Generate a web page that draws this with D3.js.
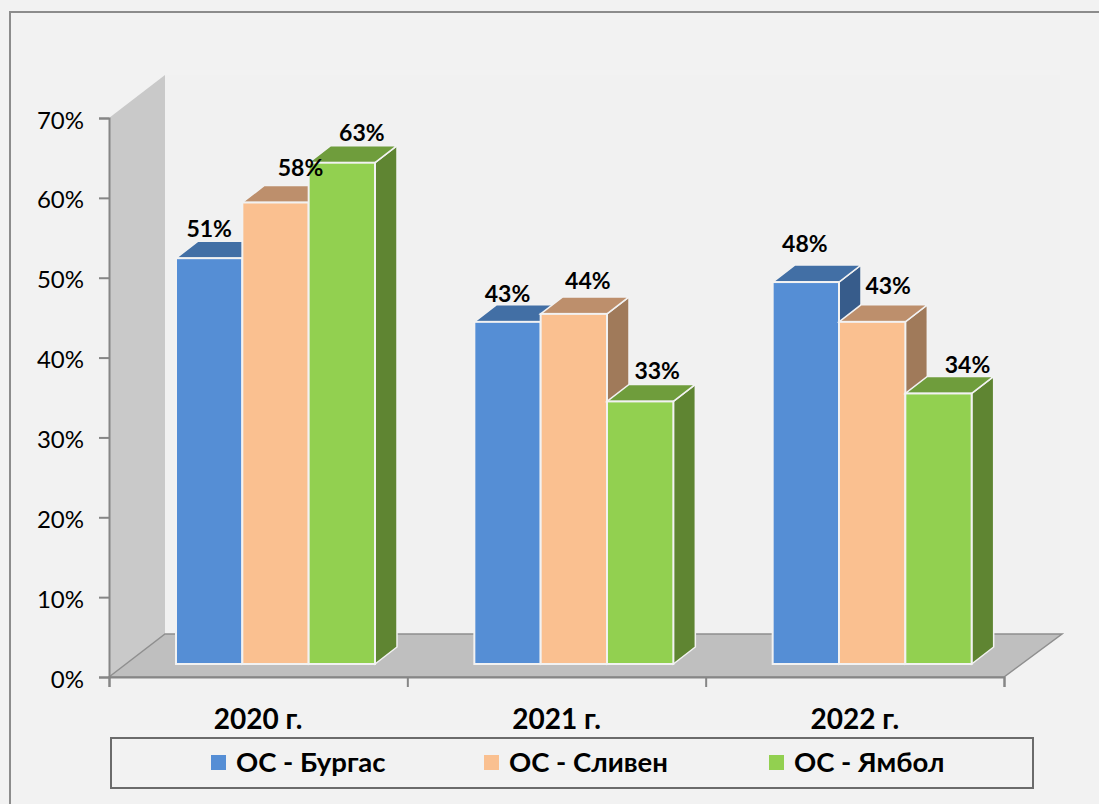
<!DOCTYPE html>
<html>
<head>
<meta charset="utf-8">
<script src="https://cdn.jsdelivr.net/npm/d3@7"></script>
<style>
html, body { margin: 0; padding: 0; background: #f2f2f2; }
svg { display: block; }
text { font-family: Lato, "Open Sans", sans-serif; fill: #000; }
</style>
</head>
<body>
<svg width="1099" height="804"></svg>
<script>
var years = ["2020 г.", "2021 г.", "2022 г."];
var seriesNames = ["ОС - Бургас", "ОС - Сливен", "ОС - Ямбол"];
var burgas = [51, 43, 48];
var sliven = [58, 44, 43];
var yambol = [63, 33, 34];
var yTicks = [0, 10, 20, 30, 40, 50, 60, 70];

var frontColors = ["#558ed5", "#fac090", "#92d050"];
var topColors = ["#426fa5", "#bd8f6c", "#6f9d3c"];
var sideColors = ["#375c8b", "#a07a5a", "#5f8532"];

var seriesValues = [burgas, sliven, yambol];

var svg = d3.select("svg");

// axis box
var left = 109, right = 1004, bottom = 677, top_ = 118;
// wall and floor depth
var wallDx = 56, wallDy = -43;
// bars stand a bit into the floor
var barBase = 664, barDx = 22, barDy = -17;

var y = d3.scaleLinear().domain([0, 70]).range([bottom, top_]);
var yBar = d3.scaleLinear().domain([0, 70]).range([barBase, barBase - 557]);
var x0 = d3.scaleBand().domain(years).range([left, right]);
var x1 = d3.scaleBand().domain(seriesNames).range([67, 266]);
var xTickScale = d3.scaleLinear().domain([0, 3]).range([left, right]);

// labels were hand placed in the original: shift from top-center of the bar front
var labelShift = [
    [[0, -21], [25, -26], [20, -22]],
    [[0, -20], [14, -25], [17, -22]],
    [[-1, -30], [16, -28], [29, -20]]
];

function pts(list) {
    return list.map(function(p) { return p.join(","); }).join(" ");
}

// chart frame, runs off the page right and bottom
svg.append("rect")
    .attr("x", 10).attr("y", 12)
    .attr("width", 1200).attr("height", 900)
    .attr("fill", "#f2f2f2")
    .attr("stroke", "#8c8c8c")
    .attr("stroke-width", 2);

// back wall
svg.append("rect")
    .attr("x", left + wallDx).attr("y", top_ + wallDy)
    .attr("width", right - left)
    .attr("height", bottom - top_)
    .attr("fill", "#f1f1f1");

// side wall
svg.append("polygon")
    .attr("points", pts([[left, top_], [left + wallDx, top_ + wallDy], [left + wallDx, bottom + wallDy], [left, bottom]]))
    .attr("fill", "#c9c9c9");

// floor
svg.append("polygon")
    .attr("points", pts([[left, bottom], [left + wallDx, bottom + wallDy], [right + wallDx + 2, bottom + wallDy], [right, bottom]]))
    .attr("fill", "#bfbfbf")
    .attr("stroke", "#8f8f8f")
    .attr("stroke-width", 1.5);

// axes
var yAxis = d3.axisLeft(y).tickValues(yTicks).tickFormat(function(d) { return d + "%"; }).tickSizeOuter(0).tickSize(10);
var yG = svg.append("g").attr("transform", "translate(" + left + ",0)").call(yAxis);
yG.selectAll("text").attr("x", -25).attr("dy", "0.42em").attr("font-size", 24).style("font-family", "Lato, 'Open Sans', sans-serif");

var xAxis = d3.axisBottom(xTickScale).tickValues([0, 1, 2, 3]).tickFormat("").tickSizeOuter(0).tickSize(10);
var xG = svg.append("g").attr("transform", "translate(0," + bottom + ")").call(xAxis);

svg.selectAll(".domain, .tick line")
    .attr("stroke", "#868686")
    .attr("stroke-width", 2);

// bars, series by series so the right ones cover the left ones
years.forEach(function(year, g) {
    var group = svg.append("g").attr("class", "group");
    seriesNames.forEach(function(name, s) {
        var v = seriesValues[s][g];
        var xl = x0(year) + x1(name);
        var xr = xl + x1.bandwidth();
        var yt = yBar(v);
        group.append("polygon")
            .attr("points", pts([[xr, yt], [xr + barDx, yt + barDy], [xr + barDx, barBase + barDy], [xr, barBase]]))
            .attr("fill", sideColors[s])
            .attr("stroke", "#f2f2f2").attr("stroke-width", 1.5);
        group.append("polygon")
            .attr("points", pts([[xl, yt], [xl + barDx, yt + barDy], [xr + barDx, yt + barDy], [xr, yt]]))
            .attr("fill", topColors[s])
            .attr("stroke", "#f2f2f2").attr("stroke-width", 1.5);
        group.append("rect")
            .attr("x", xl).attr("y", yt)
            .attr("width", x1.bandwidth())
            .attr("height", barBase - yt)
            .attr("fill", frontColors[s])
            .attr("stroke", "#f2f2f2").attr("stroke-width", 2);
    });
});

// value labels on top of everything
years.forEach(function(year, g) {
    seriesNames.forEach(function(name, s) {
        var v = seriesValues[s][g];
        svg.append("text")
            .attr("x", x0(year) + x1(name) + x1.bandwidth() / 2 + labelShift[g][s][0])
            .attr("y", yBar(v) + labelShift[g][s][1])
            .attr("text-anchor", "middle")
            .attr("font-size", 23)
            .attr("font-weight", 700)
            .text(v + "%");
    });
});

// category labels
svg.selectAll(".cat")
    .data(years)
    .enter()
    .append("text")
    .attr("class", "cat")
    .attr("x", function(d) { return x0(d) + x0.bandwidth() / 2; })
    .attr("y", 729)
    .attr("text-anchor", "middle")
    .attr("font-size", 28)
    .attr("font-weight", 700)
    .text(function(d) { return d; });

// legend
svg.append("rect")
    .attr("x", 111).attr("y", 738)
    .attr("width", 922).attr("height", 50)
    .attr("fill", "#f2f2f2")
    .attr("stroke", "#6b6b6b")
    .attr("stroke-width", 2);

var legendX = d3.scaleOrdinal().domain(seriesNames).range([211, 484, 769]);

var legendItems = svg.selectAll(".legend")
    .data(seriesNames)
    .enter()
    .append("g")
    .attr("class", "legend")
    .attr("transform", function(d) { return "translate(" + legendX(d) + ",755)"; });

legendItems.append("rect")
    .attr("width", 15).attr("height", 15)
    .attr("fill", function(d, i) { return frontColors[i]; });

legendItems.append("text")
    .attr("x", 25).attr("y", 17)
    .attr("font-size", 27.5)
    .attr("font-weight", 700)
    .text(function(d) { return d; });
</script>
</body>
</html>
